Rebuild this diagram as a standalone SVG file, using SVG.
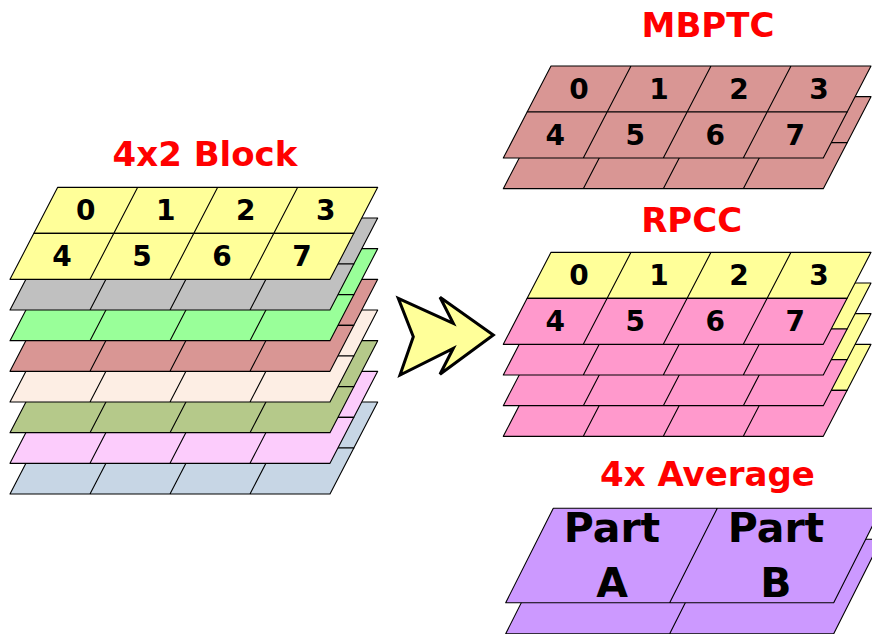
<svg xmlns="http://www.w3.org/2000/svg" xmlns:xlink="http://www.w3.org/1999/xlink" width="872" height="634" viewBox="0 0 872 634">
  <style>
    .grid { stroke: #000; stroke-width: 1.1; stroke-linejoin: round; }
    .title { font-family: "DejaVu Sans", Verdana, sans-serif; font-weight: bold; font-size: 34px; fill: #FF0000; text-anchor: middle; }
    .num { font-family: "DejaVu Sans", Verdana, sans-serif; font-weight: bold; font-size: 28px; fill: #000; text-anchor: middle; }
    .part { font-family: "DejaVu Sans", Verdana, sans-serif; font-weight: bold; font-size: 41px; fill: #000; text-anchor: middle; }
  </style>
  <defs>
    <!-- one 4x2 block layer, origin at its top-left corner -->
    <path id="rowT" d="M0,0 H320 L296.15,46 H-23.85 Z M80,0 L56.15,46 M160,0 L136.15,46 M240,0 L216.15,46"/>
    <path id="rowB" d="M-23.85,46 H296.15 L272.3,92 H-47.7 Z M56.15,46 L32.3,92 M136.15,46 L112.3,92 M216.15,46 L192.3,92"/>
    <!-- two-part layer for the averaged block -->
    <path id="halfRow" d="M0,0 H328 L280.4,94.4 H-47.6 Z M164,0 L116.4,94.4"/>
  </defs>

  <!-- 4x2 Block: eight stacked layers -->
  <g id="block4x2" class="grid">
    <g transform="translate(57.7,402)" fill="#C7D6E5"><use xlink:href="#rowT"/><use xlink:href="#rowB"/></g>
    <g transform="translate(57.7,371.33)" fill="#FCCCFC"><use xlink:href="#rowT"/><use xlink:href="#rowB"/></g>
    <g transform="translate(57.7,340.67)" fill="#B5C98A"><use xlink:href="#rowT"/><use xlink:href="#rowB"/></g>
    <g transform="translate(57.7,310)" fill="#FDEEE4"><use xlink:href="#rowT"/><use xlink:href="#rowB"/></g>
    <g transform="translate(57.7,279.33)" fill="#D99694"><use xlink:href="#rowT"/><use xlink:href="#rowB"/></g>
    <g transform="translate(57.7,248.67)" fill="#99FF99"><use xlink:href="#rowT"/><use xlink:href="#rowB"/></g>
    <g transform="translate(57.7,218)" fill="#C0C0C0"><use xlink:href="#rowT"/><use xlink:href="#rowB"/></g>
    <g transform="translate(57.7,187.33)" fill="#FFFF99"><use xlink:href="#rowT"/><use xlink:href="#rowB"/></g>
  </g>
  <g id="block4x2-labels">
    <text class="title" x="205" y="166">4x2 Block</text>
    <text class="num" x="85.8" y="220">0</text>
    <text class="num" x="165.8" y="220">1</text>
    <text class="num" x="245.8" y="220">2</text>
    <text class="num" x="325.8" y="220">3</text>
    <text class="num" x="61.9" y="266">4</text>
    <text class="num" x="141.9" y="266">5</text>
    <text class="num" x="221.9" y="266">6</text>
    <text class="num" x="301.9" y="266">7</text>
  </g>

  <!-- transform arrow -->
  <g id="arrow">
    <polygon points="398.3,298.3 453.3,323.3 440,297.3 493.3,335 440,374.3 453.3,348.3 400,375 413.3,336.7" fill="#FFFF99" stroke="#000" stroke-width="3" stroke-linejoin="miter"/>
  </g>

  <!-- MBPTC: two layers -->
  <g id="mbptc">
    <g class="grid">
      <g transform="translate(551,96.67)" fill="#D99694"><use xlink:href="#rowT"/><use xlink:href="#rowB"/></g>
      <g transform="translate(551,66)" fill="#D99694"><use xlink:href="#rowT"/><use xlink:href="#rowB"/></g>
    </g>
    <text class="title" x="708" y="37">MBPTC</text>
    <text class="num" x="579.1" y="99">0</text>
    <text class="num" x="659.1" y="99">1</text>
    <text class="num" x="739.1" y="99">2</text>
    <text class="num" x="819.1" y="99">3</text>
    <text class="num" x="555.2" y="145">4</text>
    <text class="num" x="635.2" y="145">5</text>
    <text class="num" x="715.2" y="145">6</text>
    <text class="num" x="795.2" y="145">7</text>
  </g>

  <!-- RPCC: four layers, top row yellow, bottom row pink -->
  <g id="rpcc">
    <g class="grid">
      <g transform="translate(551,344.33)"><use xlink:href="#rowT" fill="#FFFF99"/><use xlink:href="#rowB" fill="#FF99CC"/></g>
      <g transform="translate(551,313.67)"><use xlink:href="#rowT" fill="#FFFF99"/><use xlink:href="#rowB" fill="#FF99CC"/></g>
      <g transform="translate(551,283)"><use xlink:href="#rowT" fill="#FFFF99"/><use xlink:href="#rowB" fill="#FF99CC"/></g>
      <g transform="translate(551,252.33)"><use xlink:href="#rowT" fill="#FFFF99"/><use xlink:href="#rowB" fill="#FF99CC"/></g>
    </g>
    <text class="title" x="691.7" y="231.7">RPCC</text>
    <text class="num" x="579.1" y="285.3">0</text>
    <text class="num" x="659.1" y="285.3">1</text>
    <text class="num" x="739.1" y="285.3">2</text>
    <text class="num" x="819.1" y="285.3">3</text>
    <text class="num" x="555.2" y="331.3">4</text>
    <text class="num" x="635.2" y="331.3">5</text>
    <text class="num" x="715.2" y="331.3">6</text>
    <text class="num" x="795.2" y="331.3">7</text>
  </g>

  <!-- 4x Average: two layers of two parts -->
  <g id="average">
    <g class="grid" fill="#CC99FF">
      <use xlink:href="#halfRow" transform="translate(553.3,539.3)"/>
      <use xlink:href="#halfRow" transform="translate(553.3,508.3)"/>
    </g>
    <text class="title" x="707.5" y="486">4x Average</text>
    <text class="part" x="612" y="541.7">Part</text>
    <text class="part" x="612" y="596.7">A</text>
    <text class="part" x="776" y="541.7">Part</text>
    <text class="part" x="776" y="596.7">B</text>
  </g>
</svg>
